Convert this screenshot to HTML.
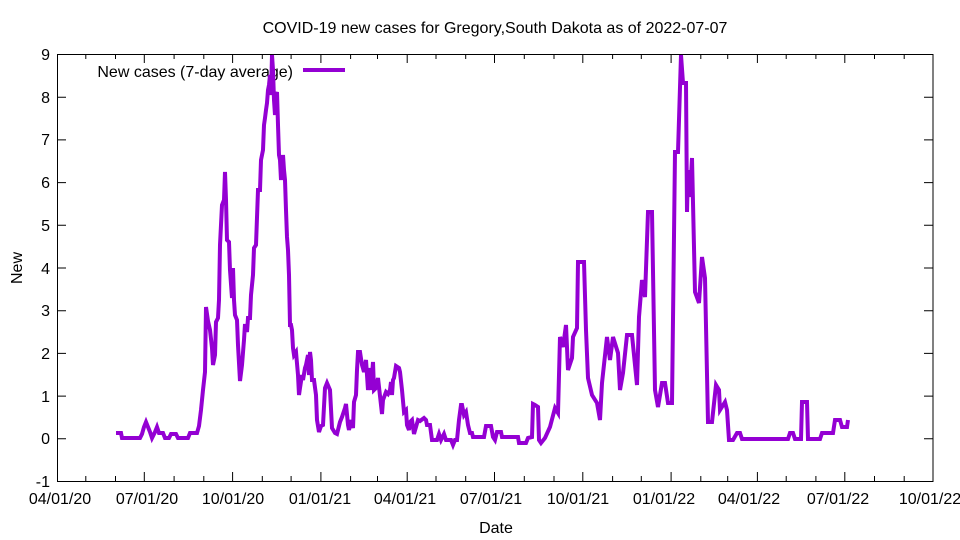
<!DOCTYPE html>
<html><head><meta charset="utf-8"><style>
html,body{margin:0;padding:0;background:#fff}
svg{display:block;font-family:"Liberation Sans",sans-serif;font-size:16px}
</style></head><body>
<svg width="960" height="540" viewBox="0 0 960 540" xmlns="http://www.w3.org/2000/svg">
<rect width="960" height="540" fill="#fff"/>
<text x="495" y="33" text-anchor="middle">COVID-19 new cases for Gregory,South Dakota as of 2022-07-07</text>
<g stroke="#000" stroke-width="1" fill="none">
<rect x="57.5" y="54.5" width="875.5" height="427"/>
<path d="M57,54.5h9M57,97.2h9M57,139.9h9M57,182.6h9M57,225.3h9M57,268h9M57,310.7h9M57,353.4h9M57,396.1h9M57,438.8h9M57,481.5h9
M933,54.5h-9M933,97.2h-9M933,139.9h-9M933,182.6h-9M933,225.3h-9M933,268h-9M933,310.7h-9M933,353.4h-9M933,396.1h-9M933,438.8h-9M933,481.5h-9"/>
<path d="M144.3,481v-9M232.6,481v-9M320.9,481v-9M407.2,481v-9M494.5,481v-9M582.8,481v-9M671.1,481v-9M757.4,481v-9M844.8,481v-9
M144.3,54v9M232.6,54v9M320.9,54v9M407.2,54v9M494.5,54v9M582.8,54v9M671.1,54v9M757.4,54v9M844.8,54v9"/>
<path d="M85.8,481v-5M115.5,481v-5M174.1,481v-5M203.8,481v-5M262.3,481v-5M291.1,481v-5M350.6,481v-5M377.5,481v-5M436,481v-5M465.7,481v-5M524.3,481v-5M554,481v-5M612.6,481v-5M641.3,481v-5M700.8,481v-5M727.7,481v-5M786.2,481v-5M815.9,481v-5M874.5,481v-5M904.2,481v-5
M85.8,54v5M115.5,54v5M174.1,54v5M203.8,54v5M262.3,54v5M291.1,54v5M350.6,54v5M377.5,54v5M436,54v5M465.7,54v5M524.3,54v5M554,54v5M612.6,54v5M641.3,54v5M700.8,54v5M727.7,54v5M786.2,54v5M815.9,54v5M874.5,54v5M904.2,54v5"/>
</g>
<g text-anchor="end">
<text x="50" y="60">9</text><text x="50" y="103">8</text><text x="50" y="145">7</text><text x="50" y="188">6</text><text x="50" y="231">5</text><text x="50" y="274">4</text><text x="50" y="316">3</text><text x="50" y="359">2</text><text x="50" y="402">1</text><text x="50" y="444">0</text><text x="50" y="487">-1</text>
</g>
<g text-anchor="middle">
<text x="60" y="504">04/01/20</text><text x="147" y="504">07/01/20</text><text x="233" y="504">10/01/20</text><text x="320" y="504">01/01/21</text><text x="405" y="504">04/01/21</text><text x="491" y="504">07/01/21</text><text x="578" y="504">10/01/21</text><text x="664" y="504">01/01/22</text><text x="749" y="504">04/01/22</text><text x="838" y="504">07/01/22</text><text x="930" y="504">10/01/22</text>
<text x="496" y="533">Date</text>
<text x="0" y="0" transform="translate(22,268) rotate(-90)">New</text>
</g>
<text x="293" y="77" text-anchor="end">New cases (7-day average)</text>
<line x1="303" y1="70" x2="345" y2="70" stroke="#9400d3" stroke-width="4"/>
<polyline fill="none" stroke="#9400d3" stroke-width="4" stroke-linejoin="miter" points="
116,433 121,433 122,438 140,438 142,434 144,427 146,422 148,427 150,432 152,438 155,432 157,427 159,433 163,433 165,438 169,438 171,434 176,434 178,438 188,438 190,433 197,433 199,426 201,410 203,390 205,372 206,307 208,321 210,330 212,348 213,365 215,355 216,322 218,318 219,300 220,245 222,205 224,200 225,172 226,200 227,240 229,242 230,270 232,298 233,268 234,300 235,315 237,320 238,345 240,381 242,365 244,340 245,324 247,332 248,318 250,318 251,295 253,275 254,248 256,245 258,190 260,190 261,160 263,150 264,125 265,118 266,110 267,103 268,90 269,85 270,75 271,95 272,55 273,70 274,100 275,115 276,95 277,92 278,125 279,155 280,160 281,180 283,155 284,170 285,180 286,210 287,237 288,250 289,275 290,325 291,325 292,330 293,348 294,355 296,352 298,375 299,395 300,388 302,375 303,380 305,368 306,365 308,355 309,375 310,352 311,360 312,380 314,380 316,395 317,420 319,432 321,426 323,425 325,388 327,383 330,390 332,428 335,433 337,434 340,422 342,417 345,408 346,404 348,425 349,430 351,420 353,428 354,402 356,395 357,370 358,352 360,352 362,365 364,372 366,360 368,390 369,382 370,368 371,390 373,362 374,390 376,388 378,378 380,396 382,414 383,400 386,392 388,394 390,390 391,382 392,395 393,380 394,378 396,366 399,368 400,372 402,390 404,412 406,410 407,425 409,430 410,422 412,420 414,434 418,420 420,421 424,418 426,420 427,425 430,425 432,440 437,440 439,434 441,440 444,434 446,440 451,440 453,445 455,440 457,440 459,420 461,405 462,405 464,415 466,412 468,425 470,433 472,433 473,437 484,437 486,426 491,426 493,437 495,440 497,432 501,432 502,437 518,437 519,443 526,443 528,438 532,437 533,404 535,405 538,407 539,440 541,443 545,438 550,427 555,408 558,413 560,337 563,347 566,325 568,370 572,358 573,337 577,328 578,262 584,262 586,330 588,378 592,395 597,403 600,420 602,383 607,337 610,360 613,337 618,353 620,390 623,373 627,335 632,335 635,365 637,385 639,317 642,280 645,297 648,212 652,212 655,390 658,407 662,383 665,383 668,403 672,403 675,152 678,152 681,55 683,83 686,83 687,212 688,170 690,197 692,158 695,292 699,303 702,257 705,278 708,422 712,422 716,385 719,390 720,410 725,402 727,410 729,440 733,440 737,433 740,433 742,439 788,439 790,433 793,433 795,439 801,439 802,402 807,402 808,439 820,439 822,433 833,433 835,420 840,420 842,427 847,427 848,420"/>
</svg>
</body></html>
